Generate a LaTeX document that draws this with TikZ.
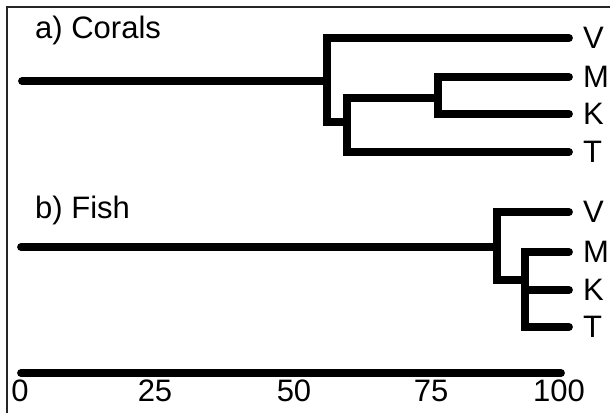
\documentclass[tikz,border=0pt]{standalone}
\usepackage{fontspec}
\setmainfont{Liberation Sans}
\usetikzlibrary{positioning}

\begin{document}
\begin{tikzpicture}[
    x=1pt, y=-1pt,
    font=\fontsize{31}{31}\selectfont,
    branch/.style={line width=7.8pt, line cap=round},
    frame/.style={draw=black!85, line width=1.3pt},
    title/.style={anchor=base west, inner sep=0pt},
    tiplabel/.style={inner sep=0pt, anchor=west},
    ticklabel/.style={inner sep=0pt}
]
\useasboundingbox (0,0) rectangle (610,413);

% frame, only top and left edge show
\draw[frame] (7,413) -- (7,7) -- (610,7);

% a) Corals
\node[title] (coralTitle) at (35,38) {a) Corals};
\foreach \n/\y in {V/38, M/77, K/114, T/152} {
    \coordinate (c\n) at (569,\y);
    \node[tiplabel, right=14pt of c\n] (c\n-lbl) {\n};
}
\coordinate (c0) at (22,81);
\coordinate (c1) at (327,81);
\coordinate (c2) at (347,122);
\coordinate (c3) at (438,98);
\draw[branch] (c0) -- (c1);
\draw[branch] (cV) -| (c1) |- (c2);
\draw[branch] (cT) -| (c2) |- (c3);
\draw[branch] (cM) -| (c3) |- (cK);

% b) Fish
\node[title] (fishTitle) at (35,218) {b) Fish};
\foreach \n/\y in {V/212, M/252, K/290, T/327} {
    \coordinate (f\n) at (569,\y);
    \node[tiplabel, right=14pt of f\n] (f\n-lbl) {\n};
}
\coordinate (f0) at (21,247);
\coordinate (f1) at (497,247);
\coordinate (f2) at (525,280);
\draw[branch] (f0) -- (f1);
\draw[branch] (fV) -| (f1) |- (f2);
\draw[branch] (fM) -| (f2) |- (fT);
\draw[branch] (fK) -- (f2 |- fK);

% scale
\coordinate (s0) at (21,373);
\coordinate (s100) at (561,373);
\draw[branch] (s0) -- (s100);
\foreach \x/\t in {20/0, 155/25, 294/50, 431/75, 559/100} {
    \node[ticklabel] (tick\t) at (\x,391) {\t};
}

\end{tikzpicture}
\end{document}
